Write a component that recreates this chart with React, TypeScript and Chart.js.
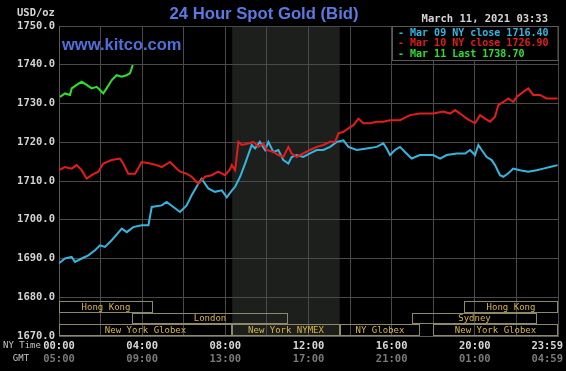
import React, { useEffect, useRef } from "react";
import { Chart, registerables } from "chart.js";

Chart.register(...registerables);

// ---- Data (hours since 00:00 NY time, price in USD/oz) ----
const mar09Hours = [0, 0.29, 0.61, 0.77, 1.09, 1.41, 1.73, 1.97, 2.21, 2.53, 3.02, 3.26, 3.57, 3.98, 4.3, 4.46, 4.94, 5.18, 5.5, 5.82, 6.14, 6.38, 6.7, 6.86, 7.18, 7.5, 7.83, 8.07, 8.31, 8.47, 8.71, 8.95, 9.27, 9.43, 9.66, 9.91, 10.07, 10.31, 10.55, 10.79, 11.03, 11.19, 11.43, 11.75, 12.07, 12.4, 12.71, 13.04, 13.36, 13.68, 13.92, 14.32, 14.8, 15.28, 15.6, 15.76, 15.92, 16.16, 16.4, 16.64, 16.96, 17.36, 18.0, 18.33, 18.65, 19.13, 19.53, 19.77, 20.01, 20.17, 20.33, 20.57, 20.81, 20.97, 21.21, 21.37, 21.61, 21.85, 22.17, 22.57, 22.97, 23.29, 23.61, 23.98];
const mar09Values = [1688.8, 1690.0, 1690.4, 1689.1, 1690.0, 1690.8, 1692.1, 1693.4, 1693.0, 1694.7, 1697.7, 1696.8, 1698.1, 1698.6, 1698.6, 1703.3, 1703.7, 1704.6, 1703.3, 1702.0, 1703.7, 1706.3, 1709.3, 1710.6, 1708.1, 1707.2, 1707.6, 1705.8, 1707.5, 1708.5, 1711.1, 1714.5, 1719.3, 1718.4, 1720.1, 1718.0, 1720.1, 1717.5, 1718.0, 1715.4, 1714.5, 1716.2, 1716.7, 1716.2, 1717.1, 1718.0, 1718.0, 1718.8, 1720.1, 1720.5, 1718.8, 1718.0, 1718.4, 1718.8, 1719.7, 1718.4, 1716.7, 1718.0, 1718.8, 1717.5, 1715.8, 1716.7, 1716.7, 1715.8, 1716.7, 1717.1, 1717.1, 1718.0, 1716.7, 1719.3, 1718.0, 1716.2, 1715.4, 1714.1, 1711.5, 1711.1, 1712.0, 1713.2, 1712.8, 1712.4, 1712.8, 1713.2, 1713.6, 1714.1];

const mar10Hours = [0, 0.29, 0.61, 0.85, 1.09, 1.33, 1.57, 1.89, 2.13, 2.53, 2.93, 3.09, 3.33, 3.66, 3.98, 4.38, 4.7, 4.94, 5.34, 5.58, 5.82, 6.14, 6.38, 6.7, 7.02, 7.34, 7.66, 7.98, 8.22, 8.31, 8.47, 8.63, 8.79, 9.11, 9.35, 9.59, 9.83, 9.99, 10.31, 10.55, 10.79, 11.03, 11.19, 11.43, 11.75, 12.07, 12.4, 12.71, 13.04, 13.28, 13.44, 13.68, 13.92, 14.16, 14.4, 14.64, 14.96, 15.28, 15.6, 15.92, 16.4, 16.88, 17.36, 18.0, 18.48, 18.81, 19.05, 19.29, 19.61, 20.01, 20.25, 20.49, 20.73, 20.97, 21.13, 21.37, 21.61, 21.85, 22.01, 22.33, 22.57, 22.81, 23.13, 23.45, 23.77, 23.98];
const mar10Values = [1712.8, 1713.6, 1713.2, 1714.1, 1712.8, 1710.6, 1711.5, 1712.4, 1714.5, 1715.4, 1715.8, 1714.5, 1711.9, 1711.9, 1714.9, 1714.5, 1714.1, 1713.6, 1714.9, 1713.6, 1712.4, 1711.9, 1711.1, 1709.3, 1711.1, 1711.5, 1712.4, 1711.5, 1713.0, 1714.1, 1712.8, 1720.1, 1719.3, 1719.7, 1720.1, 1718.8, 1719.7, 1718.0, 1717.5, 1716.7, 1716.2, 1718.8, 1717.1, 1716.2, 1717.1, 1718.0, 1718.8, 1719.3, 1720.1, 1720.1, 1722.3, 1722.7, 1723.6, 1724.4, 1726.1, 1724.9, 1724.9, 1725.3, 1725.3, 1725.7, 1725.7, 1727.0, 1727.4, 1727.4, 1727.9, 1727.4, 1728.3, 1727.4, 1726.1, 1724.9, 1727.0, 1726.1, 1725.3, 1726.6, 1729.6, 1730.4, 1731.3, 1730.4, 1731.7, 1733.0, 1733.9, 1732.2, 1732.2, 1731.3, 1731.3, 1731.3];

const mar11Hours = [0.05, 0.29, 0.53, 0.61, 0.85, 1.09, 1.33, 1.57, 1.81, 1.97, 2.13, 2.29, 2.53, 2.77, 3.01, 3.25, 3.41, 3.55];
const mar11Values = [1731.7, 1732.6, 1732.2, 1733.9, 1734.8, 1735.6, 1734.8, 1733.9, 1734.3, 1733.5, 1732.6, 1733.9, 1736.0, 1737.3, 1736.9, 1737.3, 1737.8, 1739.9];

const legendLabels = ["- Mar 09 NY close 1716.40", "- Mar 10 NY close 1726.90", "- Mar 11 Last 1738.70"];

// Trading sessions (bottom boxes)
const sessionNames = ["Hong Kong", "London", "New York Globex", "New York NYMEX", "NY Globex", "New York Globex", "Sydney", "Hong Kong"];
const sessionStart = [0, 3.5, 0, 8.33, 13.5, 18.0, 17.0, 19.5];
const sessionEnd = [4.5, 11.0, 8.33, 13.5, 17.35, 24, 23.0, 24];
const sessionRow = [0, 1, 2, 2, 2, 2, 1, 0];
const sessionRowTop = [1679, 1676, 1673];
const sessionRowBottom = [1676, 1673, 1670];

// Shaded (NYMEX pit) window
const shadeStart = 8.33;
const shadeEnd = 13.5;

// Axis ticks
const gridHours = [0, 2, 4, 6, 8, 10, 12, 14, 16, 18, 20, 22, 24];
const labelHours = [0, 4, 8, 12, 16, 20, 24];
const nyTimeLabels = ["00:00", "04:00", "08:00", "12:00", "16:00", "20:00", "23:59"];
const gmtLabels = ["05:00", "09:00", "13:00", "17:00", "21:00", "01:00", "04:59"];

const titleText = "24 Hour Spot Gold (Bid)";
const siteText = "www.kitco.com";
const dateText = "March 11, 2021 03:33";
const unitText = "USD/oz";

const MONO = "'DejaVu Sans Mono', monospace";
const SANS = "'Liberation Sans', Arial, sans-serif";
const CYAN = "#35b6e0";
const RED = "#e41c1c";
const GREEN = "#2ee02e";

const toPoints = (xs: number[], ys: number[]) => xs.map((x, i) => ({ x, y: ys[i] }));

const decorPlugin = {
  id: "kitcoDecor",
  beforeDraw(chart: any) {
    const { ctx, chartArea, scales } = chart;
    ctx.save();
    ctx.fillStyle = "#000000";
    ctx.fillRect(0, 0, chart.width, chart.height);
    const x0 = scales.x.getPixelForValue(shadeStart);
    const x1 = scales.x.getPixelForValue(shadeEnd);
    ctx.fillStyle = "#1d1f1d";
    ctx.fillRect(x0, chartArea.top, x1 - x0, chartArea.bottom - chartArea.top);
    ctx.restore();
  },
  afterDraw(chart: any) {
    const { ctx, chartArea, scales } = chart;
    const xs = scales.x;
    const ys = scales.y;
    ctx.save();

    // Session boxes
    ctx.lineWidth = 1;
    for (let i = 0; i < sessionNames.length; i++) {
      const l = Math.round(xs.getPixelForValue(sessionStart[i])) + 0.5;
      const r = Math.round(xs.getPixelForValue(sessionEnd[i])) - 0.5;
      const t = Math.round(ys.getPixelForValue(sessionRowTop[sessionRow[i]])) + 0.5;
      const b = Math.round(ys.getPixelForValue(sessionRowBottom[sessionRow[i]])) - 0.5;
      ctx.strokeStyle = "#8c8a68";
      ctx.strokeRect(l, t, r - l, b - t);
      ctx.fillStyle = "#d9b548";
      ctx.font = `9px ${MONO}`;
      ctx.textAlign = "center";
      ctx.textBaseline = "middle";
      ctx.fillText(sessionNames[i], (l + r) / 2, (t + b) / 2 + 0.5);
    }

    // Legend box
    const lx = 392.5;
    const ly = chartArea.top + 0.5;
    const lw = chartArea.right - lx;
    const lh = 34;
    ctx.fillStyle = "#000000";
    ctx.fillRect(lx, ly, lw, lh);
    ctx.strokeStyle = "#5a5a5a";
    ctx.strokeRect(lx, ly, lw, lh);
    const legendColors = [CYAN, RED, GREEN];
    ctx.font = `bold 10px ${MONO}`;
    ctx.textAlign = "left";
    ctx.textBaseline = "middle";
    for (let i = 0; i < legendLabels.length; i++) {
      ctx.fillStyle = legendColors[i];
      ctx.fillText(legendLabels[i], 398, ly + 6.5 + i * 10.8);
    }

    // Title & texts
    ctx.fillStyle = "#5a7ae2";
    ctx.font = `bold 16.7px ${SANS}`;
    ctx.textAlign = "center";
    ctx.textBaseline = "middle";
    ctx.fillText(titleText, 264, 14);

    ctx.font = `bold 16.5px ${SANS}`;
    ctx.textAlign = "left";
    ctx.fillStyle = "#4f70da";
    ctx.fillText(siteText, 62, 45);

    ctx.fillStyle = "#d6d6d6";
    ctx.font = `bold 10.5px ${MONO}`;
    ctx.textAlign = "right";
    ctx.fillText(dateText, 548, 19);

    ctx.textAlign = "left";
    ctx.fillText(unitText, 17, 13);

    // X axis labels (NY time and GMT)
    for (let i = 0; i < labelHours.length; i++) {
      let x = xs.getPixelForValue(labelHours[i]);
      ctx.font = `bold 10.5px ${MONO}`;
      const w = ctx.measureText(nyTimeLabels[i]).width;
      if (x + w / 2 > chart.width - 3) x = chart.width - 3 - w / 2;
      ctx.textAlign = "center";
      ctx.fillStyle = "#d8d8d8";
      ctx.fillText(nyTimeLabels[i], x, 346);
      ctx.fillStyle = "#7a7a7a";
      ctx.fillText(gmtLabels[i], x, 359);
    }
    ctx.font = `9px ${MONO}`;
    ctx.fillStyle = "#c4c4c4";
    ctx.textAlign = "left";
    ctx.fillText("NY Time", 3, 346);
    ctx.textAlign = "center";
    ctx.fillText("GMT", 21, 359);

    ctx.restore();
  },
};

export default function App() {
  const ref = useRef<HTMLCanvasElement>(null);
  useEffect(() => {
    document.body.style.margin = "0";
    document.body.style.background = "#000";
    const canvas = ref.current!;
    const chart = new Chart(canvas, {
      type: "line",
      data: {
        datasets: [
          {
            label: "Mar 11",
            data: toPoints(mar11Hours, mar11Values),
            borderColor: GREEN,
            borderWidth: 2,
            pointRadius: 0,
            tension: 0,
          },
          {
            label: "Mar 10",
            data: toPoints(mar10Hours, mar10Values),
            borderColor: RED,
            borderWidth: 2,
            pointRadius: 0,
            tension: 0,
          },
          {
            label: "Mar 09",
            data: toPoints(mar09Hours, mar09Values),
            borderColor: CYAN,
            borderWidth: 2,
            pointRadius: 0,
            tension: 0,
          },
        ],
      },
      options: {
        responsive: false,
        animation: false,
        devicePixelRatio: 1,
        layout: { padding: { left: 0, top: 26, right: 8, bottom: 35 } },
        plugins: {
          legend: { display: false },
          title: { display: false },
          tooltip: { enabled: false },
        },
        scales: {
          x: {
            type: "linear",
            min: 0,
            max: 24,
            afterBuildTicks: (s: any) => {
              s.ticks = gridHours.map((v) => ({ value: v }));
            },
            afterFit: (s: any) => {
              s.height = 0;
            },
            ticks: { display: false },
            grid: { color: "#4a4a4a", drawTicks: false, lineWidth: 1 },
            border: { display: true, color: "#5a5a5a" },
          },
          y: {
            type: "linear",
            min: 1670,
            max: 1750,
            afterFit: (s: any) => {
              s.width = 59;
            },
            ticks: {
              stepSize: 10,
              padding: 4,
              color: "#d4d4d4",
              font: { family: "DejaVu Sans Mono", size: 10.5, weight: "bold" },
              callback: (v: any) => Number(v).toFixed(1),
            },
            grid: { color: "#4a4a4a", drawTicks: false, lineWidth: 1 },
            border: { display: true, color: "#5a5a5a" },
          },
        },
      },
      plugins: [decorPlugin],
    });
    return () => chart.destroy();
  }, []);
  return (
    <div style={{ position: "absolute", left: 0, top: 0, width: 566, height: 371, background: "#000" }}>
      <canvas ref={ref} width={566} height={371} style={{ display: "block", width: 566, height: 371 }} />
    </div>
  );
}
